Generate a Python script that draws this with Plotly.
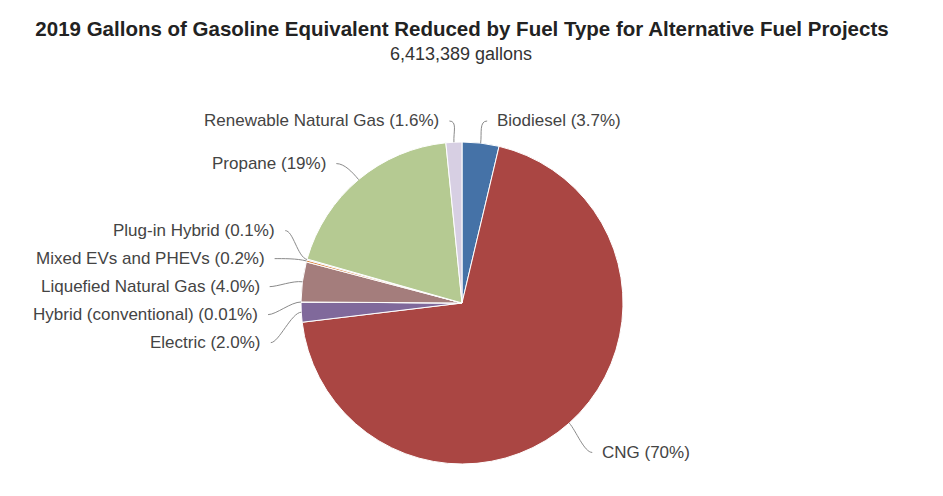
import math
import plotly.graph_objects as go

# Dados: galões equivalentes de gasolina reduzidos, por tipo de combustível (2019)
fuel_types = ["Biodiesel", "CNG", "Electric", "Hybrid (conventional)",
              "Liquefied Natural Gas", "Mixed EVs and PHEVs", "Plug-in Hybrid",
              "Propane", "Renewable Natural Gas"]
gge_share = [3.7, 69.4, 2.0, 0.01, 4.0, 0.2, 0.1, 19.0, 1.6]
share_text = ["3.7%", "70%", "2.0%", "0.01%", "4.0%", "0.2%", "0.1%", "19%", "1.6%"]
slice_colors = ["#4572A7", "#AA4643", "#80699B", "#3D96AE", "#A47D7C",
                "#DB843D", "#92A8CD", "#B5CA92", "#D7CFE3"]
total_gallons = 6413389

# Geometria (pixels da janela; a pagina tem margem de 8px)
W, H = 943, 496
OFF = 8
CX, CY, R = 462, 303, 161
LABEL_R = 191
LABEL_DY = 7
SPACING = 28
TOP_Y = 121
FONT = "Liberation Sans, Arial, sans-serif"


def px(x):
    return (x - OFF) / W


def py(y):
    return 1 - (y - OFF) / H


# angulo medio de cada fatia (graus, sentido horario a partir do topo)
total = sum(gge_share)
mid_angles = []
acc = 0
for v in gge_share:
    mid_angles.append((acc + v / 2) / total * 360)
    acc += v


def spread(items):
    # items: lista de (indice, y natural) -> distribui sem sobreposicao
    items = sorted(items, key=lambda t: t[1])
    groups = [[it] for it in items]

    def place(g):
        c = sum(t[1] for t in g) / len(g)
        top = max(c - (len(g) - 1) / 2 * SPACING, TOP_Y)
        return [top + k * SPACING for k in range(len(g))]

    changed = True
    while changed:
        changed = False
        for i in range(len(groups) - 1):
            a, b = place(groups[i]), place(groups[i + 1])
            if b[0] - a[-1] < SPACING - 0.01:
                groups[i] = groups[i] + groups[i + 1]
                del groups[i + 1]
                changed = True
                break
    out = {}
    for g in groups:
        for (idx, nat), y in zip(g, place(g)):
            out[idx] = (y, nat)
    return out


left, right = [], []
for i, a in enumerate(mid_angles):
    nat = CY - LABEL_R * math.cos(math.radians(a)) + LABEL_DY
    (left if a > 180 else right).append((i, nat))

placed = {}
placed.update(spread(left))
placed.update(spread(right))

fig = go.Figure()

fig.add_trace(go.Pie(
    labels=fuel_types,
    values=gge_share,
    sort=False,
    direction="clockwise",
    rotation=0,
    textinfo="none",
    marker=dict(colors=slice_colors, line=dict(color="white", width=1)),
    domain=dict(x=[px(CX - R), px(CX + R)], y=[py(CY + R), py(CY - R)]),
    showlegend=False,
    hovertemplate="%{label}: %{percent}<extra></extra>",
))

annotations = []
shapes = []
for i, a in enumerate(mid_angles):
    y, nat = placed[i]
    side = -1 if a > 180 else 1
    t = math.radians(a)
    if abs(y - nat) > 3:
        dy = y - LABEL_DY - CY
        off = math.sqrt(max(LABEL_R ** 2 - dy ** 2, 0))
    else:
        off = LABEL_R * abs(math.sin(t))
    lx = CX + side * off
    text_x = lx + side * 11
    end_x = lx + side * 3
    # conector curvo da borda da fatia ate o rotulo
    x0, y0 = CX + R * math.sin(t), CY - R * math.cos(t)
    x1, y1 = CX + (R + 10) * math.sin(t), CY - (R + 10) * math.cos(t)
    x2, y2 = end_x - side * 8, y
    path = "M {},{} C {},{} {},{} {},{}".format(
        px(x0), py(y0), px(x1), py(y1), px(x2), py(y2), px(end_x), py(y))
    shapes.append(dict(type="path", path=path, xref="paper", yref="paper",
                       line=dict(color="#8a8a8a", width=1)))
    annotations.append(dict(
        text=f"{fuel_types[i]} ({share_text[i]})",
        x=px(text_x), y=py(y), xref="paper", yref="paper",
        xanchor="right" if side < 0 else "left", yanchor="middle",
        showarrow=False,
        font=dict(family=FONT, size=17, color="#444444"),
    ))

annotations.append(dict(
    text=f"{total_gallons:,} gallons",
    x=px(CX - 1), y=py(54), xref="paper", yref="paper",
    xanchor="center", yanchor="middle", showarrow=False,
    font=dict(family=FONT, size=18, color="#333333"),
))

fig.update_layout(
    title=dict(
        text="<b>2019 Gallons of Gasoline Equivalent Reduced by Fuel Type for Alternative Fuel Projects</b>",
        x=px(CX), xanchor="center", y=py(29), yanchor="middle", yref="container",
        font=dict(family=FONT, size=20.5, color="#222222"),
    ),
    width=W,
    height=H,
    margin=dict(l=0, r=0, t=0, b=0),
    paper_bgcolor="white",
    plot_bgcolor="white",
    annotations=annotations,
    shapes=shapes,
)

fig.write_html("out.html")
